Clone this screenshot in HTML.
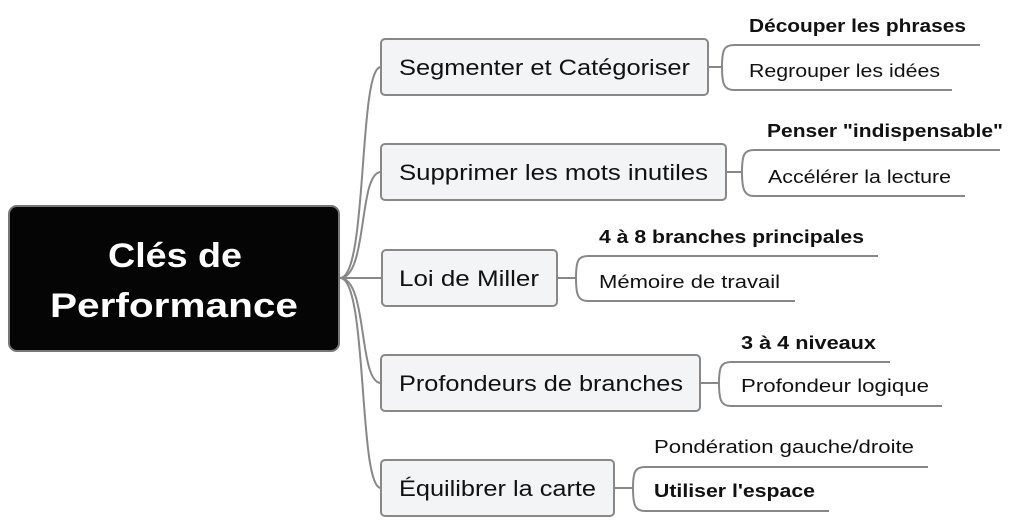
<!DOCTYPE html>
<html><head><meta charset="utf-8"><style>
html,body{margin:0;padding:0;background:#fff;width:1024px;height:530px;overflow:hidden}
text{font-family:"Liberation Sans","DejaVu Sans",sans-serif;fill:#111}
</style></head><body>
<svg width="1024" height="530" viewBox="0 0 1024 530" xmlns="http://www.w3.org/2000/svg">
<g fill="none" stroke="#888" stroke-width="2">
<path d="M340,278 C368,278 358,67 381,67"/>
<path d="M340,278 C368,278 358,172 381,172"/>
<path d="M340,278 H382"/>
<path d="M340,278 C368,278 358,383 381,383"/>
<path d="M340,278 C368,278 358,488 381,488"/>
<!-- brackets -->
<path d="M708,67 H722 M734,45 H980 M722,67 C722,50 724,45 734,45 M722,67 C722,84 724,90 734,90 H952"/>
<path d="M726,172 H742 M754,150 H1000 M742,172 C742,155 744,150 754,150 M742,172 C742,189 744,196 754,196 H965"/>
<path d="M557,278 H576 M588,256 H878 M576,278 C576,261 578,256 588,256 M576,278 C576,295 578,301 588,301 H795"/>
<path d="M700,383 H719 M731,362 H890 M719,383 C719,367 721,362 731,362 M719,383 C719,400 721,406 731,406 H942"/>
<path d="M614,488 H633 M645,467 H928 M633,488 C633,472 635,467 645,467 M633,488 C633,505 635,511 645,511 H829"/>
</g>
<rect x="9" y="206" width="330" height="145" rx="8" fill="#050505" stroke="#777" stroke-width="2"/>
<text x="175" y="267" text-anchor="middle" font-size="34" font-weight="bold" style="fill:#fff" textLength="134" lengthAdjust="spacingAndGlyphs">Clés de</text>
<text x="174" y="317" text-anchor="middle" font-size="34" font-weight="bold" style="fill:#fff" textLength="248" lengthAdjust="spacingAndGlyphs">Performance</text>
<g fill="#f3f4f6" stroke="#888" stroke-width="2">
<rect x="381" y="39" width="327" height="56" rx="4"/>
<rect x="381" y="144" width="345" height="56" rx="4"/>
<rect x="382" y="250" width="175" height="56" rx="4"/>
<rect x="381" y="355" width="319" height="56" rx="4"/>
<rect x="381" y="460" width="233" height="56" rx="4"/>
</g>
<g font-size="22">
<text x="399" y="75" textLength="291" lengthAdjust="spacingAndGlyphs">Segmenter et Catégoriser</text>
<text x="399" y="180" textLength="309" lengthAdjust="spacingAndGlyphs">Supprimer les mots inutiles</text>
<text x="399" y="286" textLength="140" lengthAdjust="spacingAndGlyphs">Loi de Miller</text>
<text x="399" y="391" textLength="284" lengthAdjust="spacingAndGlyphs">Profondeurs de branches</text>
<text x="399" y="496" textLength="197" lengthAdjust="spacingAndGlyphs">Équilibrer la carte</text>
</g>
<g font-size="18">
<text x="749" y="32" font-weight="bold" textLength="217" lengthAdjust="spacingAndGlyphs">Découper les phrases</text>
<text x="749" y="77" textLength="191" lengthAdjust="spacingAndGlyphs">Regrouper les idées</text>
<text x="767" y="137" font-weight="bold" textLength="236" lengthAdjust="spacingAndGlyphs">Penser "indispensable"</text>
<text x="768" y="183" textLength="183" lengthAdjust="spacingAndGlyphs">Accélérer la lecture</text>
<text x="599" y="243" font-weight="bold" textLength="265" lengthAdjust="spacingAndGlyphs">4 à 8 branches principales</text>
<text x="599" y="288" textLength="181" lengthAdjust="spacingAndGlyphs">Mémoire de travail</text>
<text x="741" y="349" font-weight="bold" textLength="135" lengthAdjust="spacingAndGlyphs">3 à 4 niveaux</text>
<text x="741" y="392" textLength="188" lengthAdjust="spacingAndGlyphs">Profondeur logique</text>
<text x="654" y="453" textLength="260" lengthAdjust="spacingAndGlyphs">Pondération gauche/droite</text>
<text x="654" y="497" font-weight="bold" textLength="161" lengthAdjust="spacingAndGlyphs">Utiliser l'espace</text>
</g>
</svg>
</body></html>
